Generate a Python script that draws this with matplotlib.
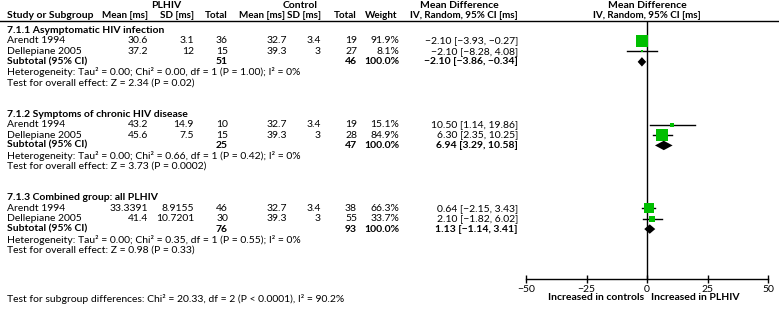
import matplotlib.pyplot as plt

plt.rcParams['font.family'] = ['Lato', 'DejaVu Sans']

# data
group_titles = ["7.1.1 Asymptomatic HIV infection",
                "7.1.2 Symptoms of chronic HIV disease",
                "7.1.3 Combined group: all PLHIV"]
studies = ["Arendt 1994", "Dellepiane 2005"]
plhiv_mean = [[30.6, 37.2], [43.2, 45.6], [33.3391, 41.4]]
plhiv_sd = [[3.1, 12], [14.9, 7.5], [8.9155, 10.7201]]
plhiv_n = [[36, 15], [10, 15], [46, 30]]
ctrl_mean = [[32.7, 39.3], [32.7, 39.3], [32.7, 39.3]]
ctrl_sd = [[3.4, 3], [3.4, 3], [3.4, 3]]
ctrl_n = [[19, 27], [19, 28], [38, 55]]
weights = [[91.9, 8.1], [15.1, 84.9], [66.3, 33.7]]
md = [[-2.10, -2.10], [10.50, 6.30], [0.64, 2.10]]
md_lo = [[-3.93, -8.28], [1.14, 2.35], [-2.15, -1.82]]
md_hi = [[-0.27, 4.08], [19.86, 10.25], [3.43, 6.02]]

sub_plhiv_n = [51, 25, 76]
sub_ctrl_n = [46, 47, 93]
sub_md = [-2.10, 6.94, 1.13]
sub_lo = [-3.86, 3.29, -1.14]
sub_hi = [-0.34, 10.58, 3.41]

het_chi2 = ["0.00", "0.66", "0.35"]
het_p = ["1.00", "0.42", "0.55"]
z_vals = ["2.34", "3.73", "0.98"]
z_p = ["0.02", "0.0002", "0.33"]

ticks = [-50, -25, 0, 25, 50]


def fmt_ci(e, lo, hi):
    s = f"{e:.2f} [{lo:.2f}, {hi:.2f}]"
    return s.replace("-", "\u2212")


W, H = 779, 309
row0, row_h = 30.5, 10.45          # pixel y of first group title, row height
y_top = -row0 / row_h
y_bot = (H - row0) / row_h
r_line = (21 - row0) / row_h
r_axis = (279 - row0) / row_h

fig = plt.figure(figsize=(W / 100, H / 100), dpi=100)
tab = fig.add_axes([0, 0, 1, 1])
tab.set_xlim(0, W)
tab.set_ylim(y_bot, y_top)
tab.axis('off')

ax = fig.add_axes([526 / W, 0, 242 / W, 1])
ax.set_xlim(-50, 50)
ax.set_ylim(y_bot, y_top)
ax.patch.set_visible(False)

fs = 7.5
green = '#00bf00'

# column headers
r_h1 = (5 - row0) / row_h
r_h2 = (15.5 - row0) / row_h
hb = dict(fontsize=fs, fontweight='bold', va='center')
hc = dict(fontsize=7.1, fontweight='bold', va='center')
tab.text(166, r_h1, "PLHIV", ha='center', **hb)
tab.text(300, r_h1, "Control", ha='center', **hb)
tab.text(459, r_h1, "Mean Difference", ha='center', **hb)
tab.text(647, r_h1, "Mean Difference", ha='center', **hb)
tab.text(7, r_h2, "Study or Subgroup", ha='left', **hb)
for x, s in [(148, "Mean [ms]"), (194, "SD [ms]"), (228, "Total"),
             (285, "Mean [ms]"), (321, "SD [ms]"), (357, "Total"),
             (397, "Weight"), (518, "IV, Random, 95% CI [ms]")]:
    tab.text(x, r_h2, s, ha='right', **hc)
tab.text(647, r_h2, "IV, Random, 95% CI [ms]", ha='center', **hc)
tab.axhline(r_line, color='black', lw=1)

cols = [148, 194, 228, 287, 321, 357, 399, 518]
tn = dict(fontsize=fs, va='center')

for g in range(3):
    base = 8 * g
    tab.text(7, base, group_titles[g], ha='left', fontweight='bold', **tn)
    for i in range(2):
        r = base + 1 + i
        tab.text(7, r, studies[i], ha='left', **tn)
        vals = [f"{plhiv_mean[g][i]:g}", f"{plhiv_sd[g][i]:g}", str(plhiv_n[g][i]),
                f"{ctrl_mean[g][i]:g}", f"{ctrl_sd[g][i]:g}", str(ctrl_n[g][i]),
                f"{weights[g][i]:.1f}%", fmt_ci(md[g][i], md_lo[g][i], md_hi[g][i])]
        for x, s in zip(cols, vals):
            tab.text(x, r, s, ha='right', **tn)
        ax.plot([md_lo[g][i], md_hi[g][i]], [r, r], color='black', lw=1, zorder=2)
        side = 2 + 0.11 * weights[g][i]
        ax.plot(md[g][i], r, marker='s', ms=side * 0.72, color=green, mew=0, zorder=3)

    r = base + 3
    tab.text(7, r, "Subtotal (95% CI)", ha='left', fontweight='bold', **tn)
    for x, s in [(228, str(sub_plhiv_n[g])), (357, str(sub_ctrl_n[g])),
                 (399, "100.0%"), (518, fmt_ci(sub_md[g], sub_lo[g], sub_hi[g]))]:
        tab.text(x, r, s, ha='right', fontweight='bold', **tn)
    d = 0.45
    ax.fill([sub_lo[g], sub_md[g], sub_hi[g], sub_md[g]],
            [r, r - d, r, r + d], color='black', lw=0, zorder=3)

    tab.text(7, base + 4,
             f"Heterogeneity: Tau\u00b2 = 0.00; Chi\u00b2 = {het_chi2[g]}, df = 1 "
             f"(P = {het_p[g]}); I\u00b2 = 0%", ha='left', **tn)
    tab.text(7, base + 5, f"Test for overall effect: Z = {z_vals[g]} (P = {z_p[g]})",
             ha='left', **tn)

tab.text(7, (299 - row0) / row_h,
         "Test for subgroup differences: Chi\u00b2 = 20.33, df = 2 (P < 0.0001), I\u00b2 = 90.2%",
         ha='left', **tn)

# forest axis
ax.vlines(0, r_line, r_axis, color='black', lw=1, zorder=1)
for s in ['top', 'left', 'right']:
    ax.spines[s].set_visible(False)
ax.spines['bottom'].set_position(('data', r_axis))
ax.spines['bottom'].set_linewidth(1)
ax.set_yticks([])
ax.set_xticks(ticks)
ax.tick_params(axis='x', direction='inout', length=6, width=1, labelsize=fs, pad=1)

r_lab = (297 - row0) / row_h
ax.text(-1.2, r_lab, "Increased in controls", ha='right', va='center',
        fontsize=fs, fontweight='bold')
ax.text(1.8, r_lab, "Increased in PLHIV", ha='left', va='center',
        fontsize=fs, fontweight='bold')

fig.savefig('out.png', dpi=100)
